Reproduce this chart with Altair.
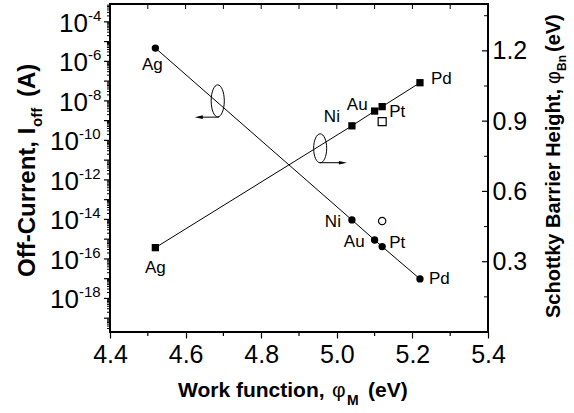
import altair as alt
import pandas as pd

FONT = "Liberation Sans"

# ---------------- data ----------------
metals = ["Ag", "Ni", "Au", "Pt", "Pd"]
work_function = [4.52, 5.04, 5.10, 5.12, 5.22]
off_current = [4.7e-6, 9.4e-15, 9.1e-16, 4.2e-16, 9.7e-18]
barrier_height = [0.36, 0.88, 0.943, 0.962, 1.064]

open_work_function = [5.12]
open_off_current = [8.3e-15]
open_barrier_height = [0.898]

x_tick_values = [4.4, 4.6, 4.8, 5.0, 5.2, 5.4]
x_minor_values = [4.5, 4.7, 4.9, 5.1, 5.3]
left_label_exponents = [-4, -6, -8, -10, -12, -14, -16, -18]
left_decade_exponents = list(range(-19, -3))
right_tick_values = [0.3, 0.6, 0.9, 1.2]
right_minor_values = [0.15, 0.45, 0.75, 1.05, 1.35]

# annotation anchors (data coordinates)
left_ellipse_wf, left_ellipse_y = [4.685], [1.0e-8]
left_arrow_from, left_arrow_to, left_arrow_y = [4.688], [4.635], [1.5e-9]
right_ellipse_wf, right_ellipse_y = [4.956], [0.784]
right_arrow_from, right_arrow_to, right_arrow_y = [4.956], [5.016], [0.7226]

# ---------------- tables ----------------
df = pd.DataFrame({"metal": metals, "wf": work_function,
                   "ioff": off_current, "sbh": barrier_height})
df_open = pd.DataFrame({"wf": open_work_function, "ioff": open_off_current,
                        "sbh": open_barrier_height})
df_xall = pd.DataFrame({"v": x_tick_values + x_minor_values})
df_xminor = pd.DataFrame({"v": x_minor_values})
df_ldec = pd.DataFrame({"v": [10.0 ** e for e in left_decade_exponents]})
df_lminor = pd.DataFrame({"v": [m * 10.0 ** e for e in range(-20, -3) for m in range(2, 10)
                                if 2e-20 < m * 10.0 ** e < 8e-4]})
df_llab = pd.DataFrame({"exp": left_label_exponents,
                        "v": [10.0 ** e for e in left_label_exponents],
                        "sup": [str(e) for e in left_label_exponents]})
df_rmajor = pd.DataFrame({"v": right_tick_values})
df_rminor = pd.DataFrame({"v": right_minor_values})
df_lell = pd.DataFrame({"wf": left_ellipse_wf, "y": left_ellipse_y})
df_larrow = pd.DataFrame({"a": left_arrow_from, "b": left_arrow_to, "y": left_arrow_y})
df_rell = pd.DataFrame({"wf": right_ellipse_wf, "y": right_ellipse_y})
df_rarrow = pd.DataFrame({"a": right_arrow_from, "b": right_arrow_to, "y": right_arrow_y})
one = pd.DataFrame({"k": [0]})

# ---------------- scales / axes ----------------
xscale = alt.Scale(domain=[4.4, 5.4], nice=False, zero=False)
lscale = alt.Scale(type="log", domain=[2e-20, 8e-4], nice=False)
rscale = alt.Scale(domain=[0, 1.4], nice=False, zero=False)

xaxis = alt.Axis(values=x_tick_values, format=".1f", title=None, grid=False,
                 domain=False, tickSize=6, tickColor="black", tickWidth=1.2,
                 labelFontSize=25, labelFont=FONT, labelColor="black",
                 labelPadding=4, labelFlush=False, labelOverlap=False)
raxis = alt.Axis(orient="right", values=right_tick_values, format=".1f", title=None,
                 grid=False, domain=False, ticks=False, tickSize=0,
                 labelFontSize=25, labelFont=FONT, labelColor="black",
                 labelPadding=4, labelFlush=False, labelOverlap=False)


def X(f):
    return alt.X(f"{f}:Q", scale=xscale, axis=xaxis)


def YL(f):
    return alt.Y(f"{f}:Q", scale=lscale, axis=None)


def YR(f):
    return alt.Y(f"{f}:Q", scale=rscale, axis=raxis)


def ellipse_path(rx):
    k = 0.5523
    kx = k * rx
    return (f"M0,-1 C{kx:.4f},-1 {rx:.4f},-{k} {rx:.4f},0 "
            f"C{rx:.4f},{k} {kx:.4f},1 0,1 "
            f"C-{kx:.4f},1 -{rx:.4f},{k} -{rx:.4f},0 "
            f"C-{rx:.4f},-{k} -{kx:.4f},-1 0,-1 Z")


def labels(yfn, yfield, names, dx, dy, align):
    return alt.Chart(df).transform_filter(
        alt.FieldOneOfPredicate(field="metal", oneOf=names)
    ).mark_text(font=FONT, fontSize=17, color="black", align=align,
                baseline="middle", dx=dx, dy=dy).encode(
        x=X("wf"), y=yfn(yfield), text="metal:N")


def txt(text, x, y, size, angle=0, bold=True):
    return alt.Chart(one).mark_text(
        font=FONT, fontSize=size, fontWeight="bold" if bold else "normal",
        angle=angle, align="left", baseline="alphabetic", color="black"
    ).encode(x=alt.value(x), y=alt.value(y), text=alt.value(text))


# ---------------- left (off-current, log) layers ----------------
circ_line = alt.Chart(df).mark_line(color="black", strokeWidth=1).encode(
    x=X("wf"), y=YL("ioff"))
circ_pts = alt.Chart(df).mark_point(shape="circle", filled=True, size=54,
                                    color="black", opacity=1).encode(
    x=X("wf"), y=YL("ioff"))
open_circ = alt.Chart(df_open).mark_point(shape="circle", filled=False, size=54,
                                          color="black", strokeWidth=1.2, opacity=1).encode(
    x=X("wf"), y=YL("ioff"))
circ_labels = [
    labels(YL, "ioff", ["Ag"], -3, 17, "center"),
    labels(YL, "ioff", ["Ni"], -11, 2, "right"),
    labels(YL, "ioff", ["Au"], -10, 2, "right"),
    labels(YL, "ioff", ["Pt"], 7, -4, "left"),
    labels(YL, "ioff", ["Pd"], 9, 0, "left"),
]
ell_left = alt.Chart(df_lell).mark_point(
    shape=ellipse_path(0.41), size=1024, filled=False, color="black",
    strokeWidth=1, opacity=1).encode(x=X("wf"), y=YL("y"))
arrow_left = alt.Chart(df_larrow).mark_rule(color="black", strokeWidth=1).encode(
    x=X("a"), x2="b:Q", y=YL("y"))
arrow_left_head = alt.Chart(df_larrow).mark_point(
    shape="M-1,0 L1,-0.45 L1,0.45 Z", size=64, filled=True, color="black",
    opacity=1).encode(x=X("b"), y=YL("y"))

left_major = alt.Chart(df_ldec).mark_rule(color="black", strokeWidth=1.2).encode(
    y=YL("v"), x=alt.value(0), x2=alt.value(-6))
left_minor = alt.Chart(df_lminor).mark_rule(color="black", strokeWidth=1).encode(
    y=YL("v"), x=alt.value(0), x2=alt.value(-3))

single = "datum.exp > -10"
double = "datum.exp <= -10"
lab10_s = alt.Chart(df_llab).transform_filter(single).mark_text(
    font=FONT, fontSize=26, color="black", align="right", baseline="middle", dy=2
).encode(y=YL("v"), x=alt.value(-22), text=alt.value("10"))
labsup_s = alt.Chart(df_llab).transform_filter(single).mark_text(
    font=FONT, fontSize=15, color="black", align="left", baseline="middle", dy=-6
).encode(y=YL("v"), x=alt.value(-22), text="sup:N")
lab10_d = alt.Chart(df_llab).transform_filter(double).mark_text(
    font=FONT, fontSize=26, color="black", align="right", baseline="middle", dy=2
).encode(y=YL("v"), x=alt.value(-31), text=alt.value("10"))
labsup_d = alt.Chart(df_llab).transform_filter(double).mark_text(
    font=FONT, fontSize=15, color="black", align="left", baseline="middle", dy=-6
).encode(y=YL("v"), x=alt.value(-31), text="sup:N")

top_ticks = alt.Chart(df_xall).mark_rule(color="black", strokeWidth=1).encode(
    x=X("v"), y=alt.value(0), y2=alt.value(5))
bottom_minor = alt.Chart(df_xminor).mark_rule(color="black", strokeWidth=1.2).encode(
    x=X("v"), y=alt.value(328), y2=alt.value(332))

titles = [
    txt("Off-Current, I", -75, 273, 24, angle=270),
    txt("off", -68, 123, 15, angle=270),
    txt("(A)", -75, 93, 24, angle=270),
    txt("Schottky Barrier Height,", 450, 314, 20, angle=270),
    txt("φ", 450, 80, 20, angle=270, bold=False),
    txt("Bn", 456, 67, 12, angle=270),
    txt("(eV)", 450, 48, 20, angle=270),
    txt("Work function,", 68, 393, 21),
    txt("φ", 222, 393, 21, bold=False),
    txt("M", 237, 401, 14),
    txt("(eV)", 258, 393, 21),
]

left = alt.layer(circ_line, circ_pts, open_circ, *circ_labels, ell_left,
                 arrow_left, arrow_left_head, left_major, left_minor,
                 lab10_s, labsup_s, lab10_d, labsup_d, top_ticks, bottom_minor,
                 *titles)

# ---------------- right (barrier height, linear) layers ----------------
sq_line = alt.Chart(df).mark_line(color="black", strokeWidth=1).encode(
    x=X("wf"), y=YR("sbh"))
sq_pts = alt.Chart(df).mark_point(shape="square", filled=True, size=53,
                                  color="black", opacity=1).encode(
    x=X("wf"), y=YR("sbh"))
open_sq = alt.Chart(df_open).mark_point(shape="square", filled=False, size=64,
                                        color="black", strokeWidth=1.2, opacity=1).encode(
    x=X("wf"), y=YR("sbh"))
sq_labels = [
    labels(YR, "sbh", ["Ag"], 0, 20, "center"),
    labels(YR, "sbh", ["Ni"], -12, -9, "right"),
    labels(YR, "sbh", ["Au"], -7, -6, "right"),
    labels(YR, "sbh", ["Pt"], 7, 5, "left"),
    labels(YR, "sbh", ["Pd"], 11, -4, "left"),
]
ell_right = alt.Chart(df_rell).mark_point(
    shape=ellipse_path(0.45), size=841, filled=False, color="black",
    strokeWidth=1, opacity=1).encode(x=X("wf"), y=YR("y"))
arrow_right = alt.Chart(df_rarrow).mark_rule(color="black", strokeWidth=1).encode(
    x=X("a"), x2="b:Q", y=YR("y"))
arrow_right_head = alt.Chart(df_rarrow).mark_point(
    shape="M1,0 L-1,-0.45 L-1,0.45 Z", size=64, filled=True, color="black",
    opacity=1).encode(x=X("b"), y=YR("y"))
right_major = alt.Chart(df_rmajor).mark_rule(color="black", strokeWidth=1.2).encode(
    y=YR("v"), x=alt.value(378), x2=alt.value(372))
right_minor = alt.Chart(df_rminor).mark_rule(color="black", strokeWidth=1).encode(
    y=YR("v"), x=alt.value(378), x2=alt.value(374))

right = alt.layer(sq_line, sq_pts, open_sq, *sq_labels, ell_right, arrow_right,
                  arrow_right_head, right_major, right_minor)

chart = alt.layer(left, right).resolve_scale(y="independent").properties(
    width=378, height=328,
    padding={"left": 110, "top": 4, "right": 86, "bottom": 81},
    autosize=alt.AutoSizeParams(type="none"),
    background="white",
).configure(font=FONT).configure_view(stroke="black", strokeWidth=2)

chart.save("out.html", embed_options={"renderer": "svg", "actions": False})
